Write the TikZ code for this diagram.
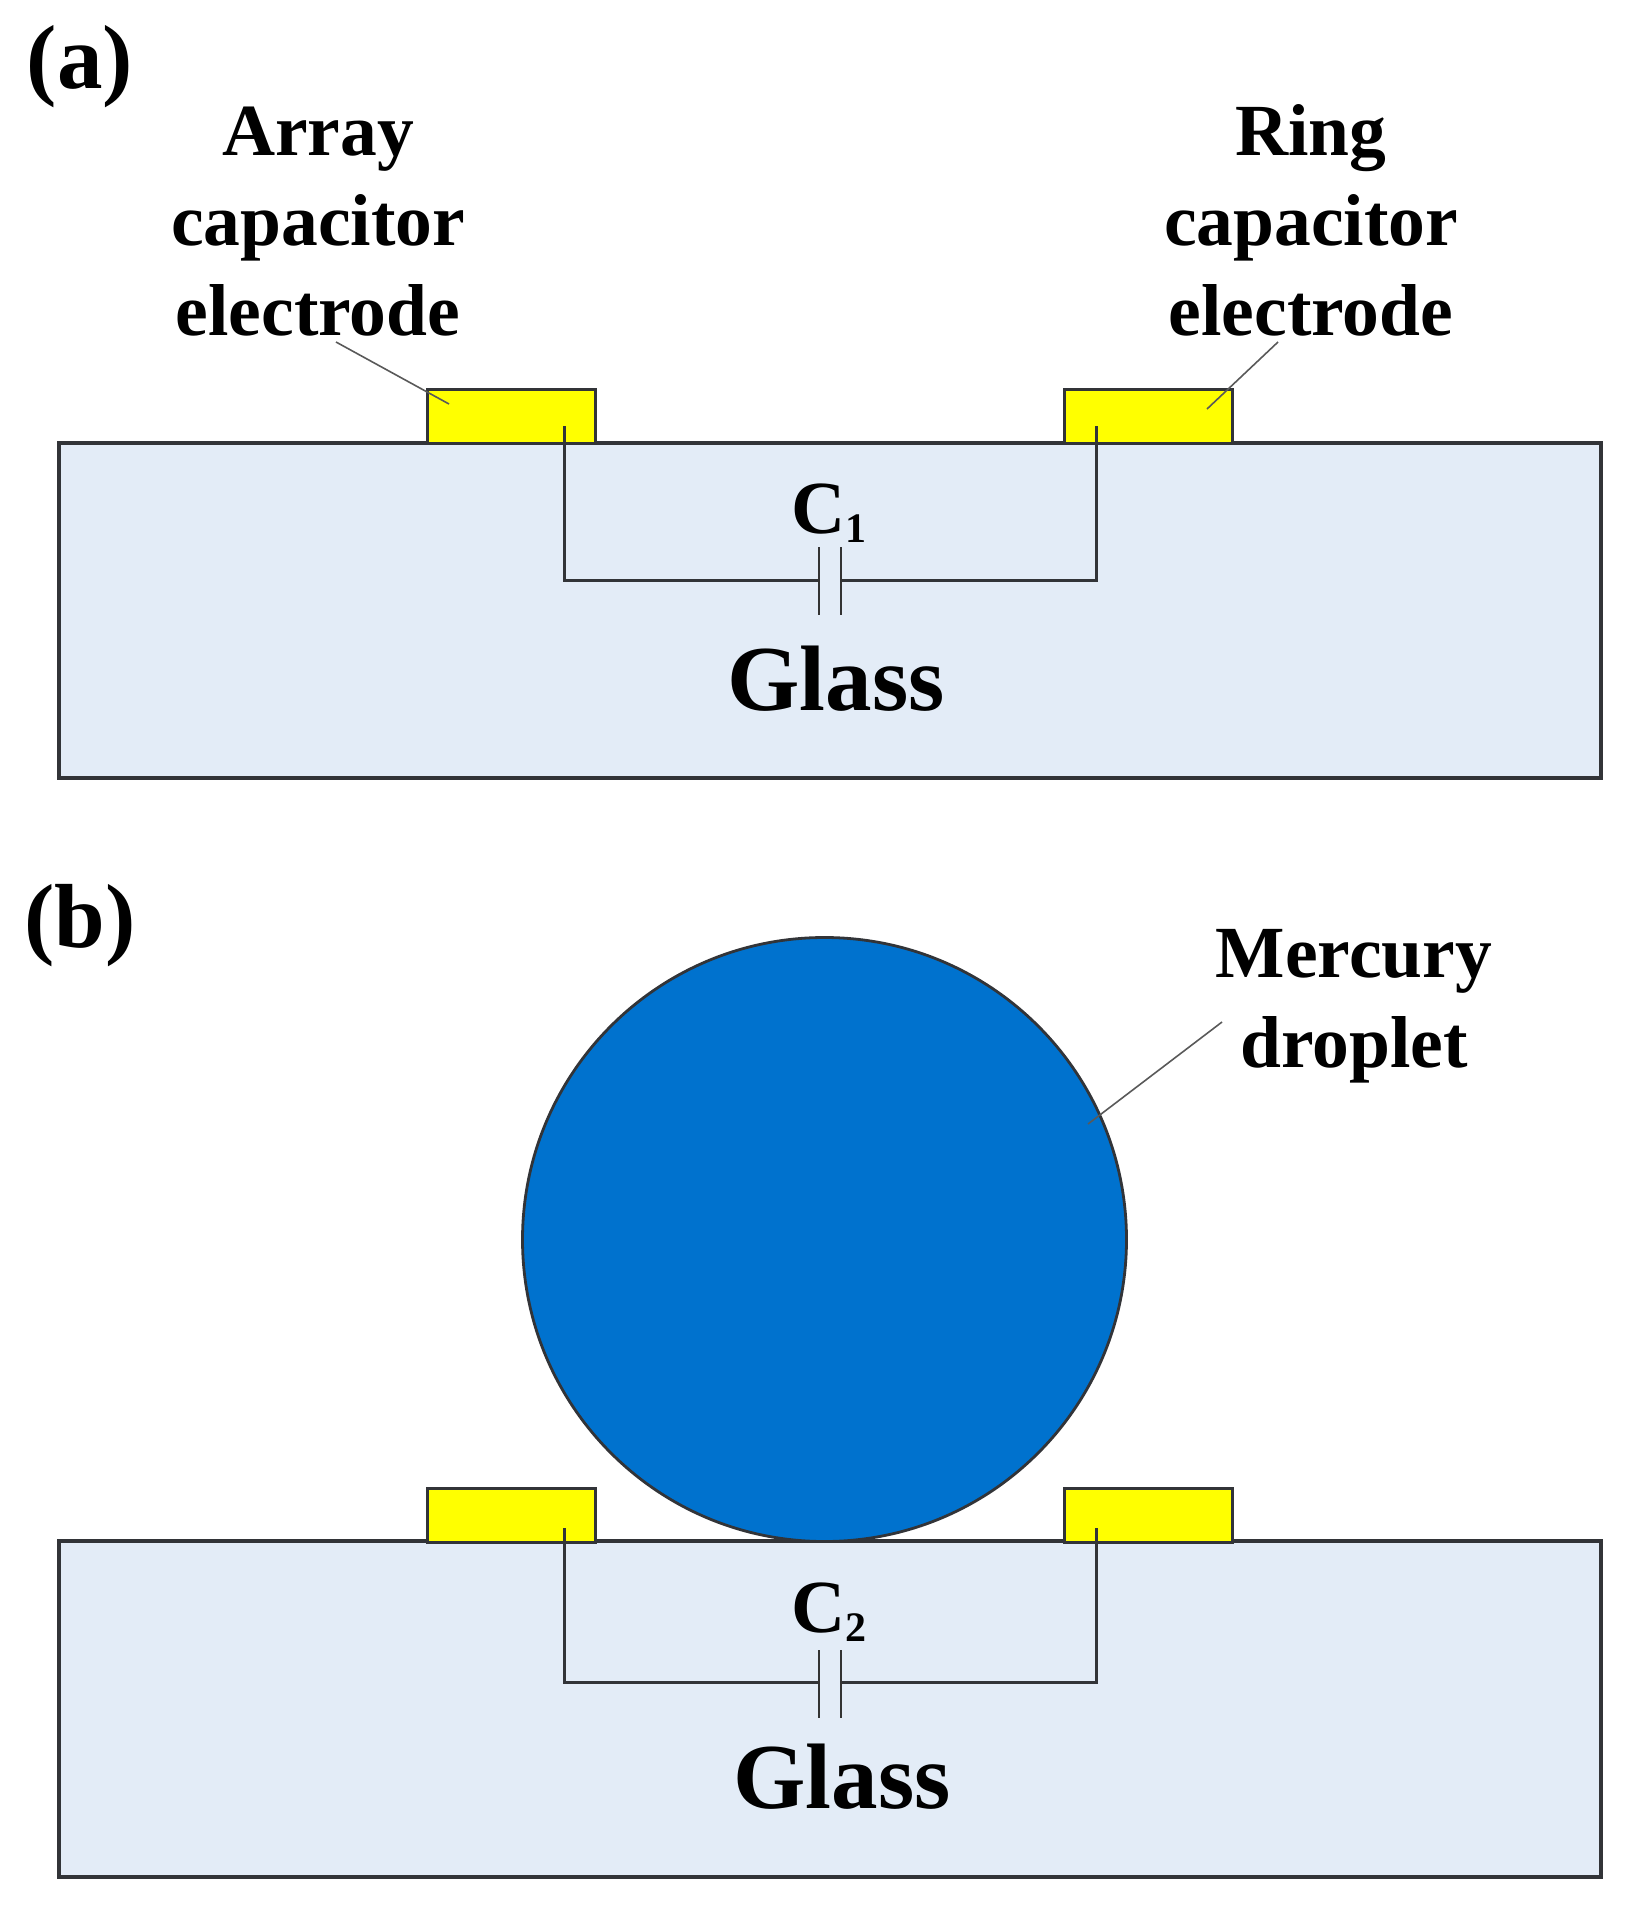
\documentclass[tikz,border=0pt]{standalone}
\usepackage{fontspec}
\setmainfont{Liberation Serif}
\definecolor{glassblue}{RGB}{227,236,247}
\definecolor{dropblue}{RGB}{0,114,206}
\definecolor{padyellow}{RGB}{255,255,0}
\definecolor{edge}{RGB}{50,52,56}
\tikzset{
  glass/.style={draw=edge,line width=3.4pt,fill=glassblue,inner sep=0pt,outer sep=0pt,anchor=north west,minimum width=1542pt,minimum height=335pt},
  electrode/.style={draw=edge,line width=3pt,fill=padyellow,inner sep=0pt,outer sep=0pt,anchor=north west,minimum width=167.5pt,minimum height=54pt},
  drop/.style={circle,draw=edge,line width=2.8pt,fill=dropblue,inner sep=0pt,outer sep=0pt,minimum size=604pt},
  wire/.style={draw=edge,line width=3pt},
  plate/.style={draw=black!80,line width=2.6pt},
  leader/.style={draw=black!65,line width=1.6pt},
  label/.style={font=\bfseries\fontsize{73.5}{90}\selectfont,align=center,inner sep=0pt,anchor=base},
  panel/.style={font=\bfseries\fontsize{91}{91}\selectfont,inner sep=0pt,anchor=base},
  substrate/.style={font=\bfseries\fontsize{93}{93}\selectfont,inner sep=0pt,anchor=base},
  capname/.style={font=\bfseries\fontsize{75}{75}\selectfont,inner sep=0pt,anchor=base}
}
\newcommand{\subnum}[1]{{\fontsize{42}{42}\selectfont\raisebox{-9pt}{#1}}}
\begin{document}
\begin{tikzpicture}[x=1pt,y=-1pt]
\useasboundingbox (0,0) rectangle (1637,1916);

% panel (a)
\node[panel] (tagA) at (80,89) {(a)};
\node[glass] (glassA) at (59,443) {};
\node[electrode] (arrayA) at (427.5,389) {};
\node[electrode] (ringA) at (1064.5,389) {};
\node[label] (arrayText) at (318,335) {Array\\capacitor\\electrode};
\node[label] (ringText) at (1311,335) {Ring\\capacitor\\electrode};
\node[capname] (capA) at (829,533) {C\subnum{1}};
\node[substrate] (glassTextA) at (836,710) {Glass};

\coordinate (arrayFrom) at (336,342);
\coordinate (arrayTo) at (449,404);
\coordinate (ringFrom) at (1278,342);
\coordinate (ringTo) at (1207,409);
\draw[leader] (arrayFrom) -- (arrayTo);
\draw[leader] (ringFrom) -- (ringTo);

\coordinate (wireAl) at (564,426);
\coordinate (wireAr) at (1096,426);
\coordinate (plateAl) at (819,580);
\coordinate (plateAr) at (841,580);
\draw[wire] (wireAl) |- (plateAl);
\draw[wire] (wireAr) |- (plateAr);
\draw[plate] (819,547) -- (819,615);
\draw[plate] (841,547) -- (841,615);

% panel (b)
\node[panel] (tagB) at (80,947) {(b)};
\node[glass,minimum height=336pt] (glassB) at (59,1541) {};
\node[electrode] (arrayB) at (427.5,1488) {};
\node[electrode] (ringB) at (1064.5,1488) {};
\node[drop] (drop) at (824.5,1239.5) {};
\node[label] (dropText) at (1354,1067) {Mercury\\droplet};
\node[capname] (capB) at (829,1632) {C\subnum{2}};
\node[substrate] (glassTextB) at (842,1808) {Glass};

\coordinate (dropFrom) at (1222,1022);
\coordinate (dropTo) at (1088,1124);
\draw[leader] (dropFrom) -- (dropTo);

\coordinate (wireBl) at (564,1528);
\coordinate (wireBr) at (1096,1528);
\coordinate (plateBl) at (819,1682);
\coordinate (plateBr) at (841,1682);
\draw[wire] (wireBl) |- (plateBl);
\draw[wire] (wireBr) |- (plateBr);
\draw[plate] (819,1650) -- (819,1718);
\draw[plate] (841,1650) -- (841,1718);
\end{tikzpicture}
\end{document}
